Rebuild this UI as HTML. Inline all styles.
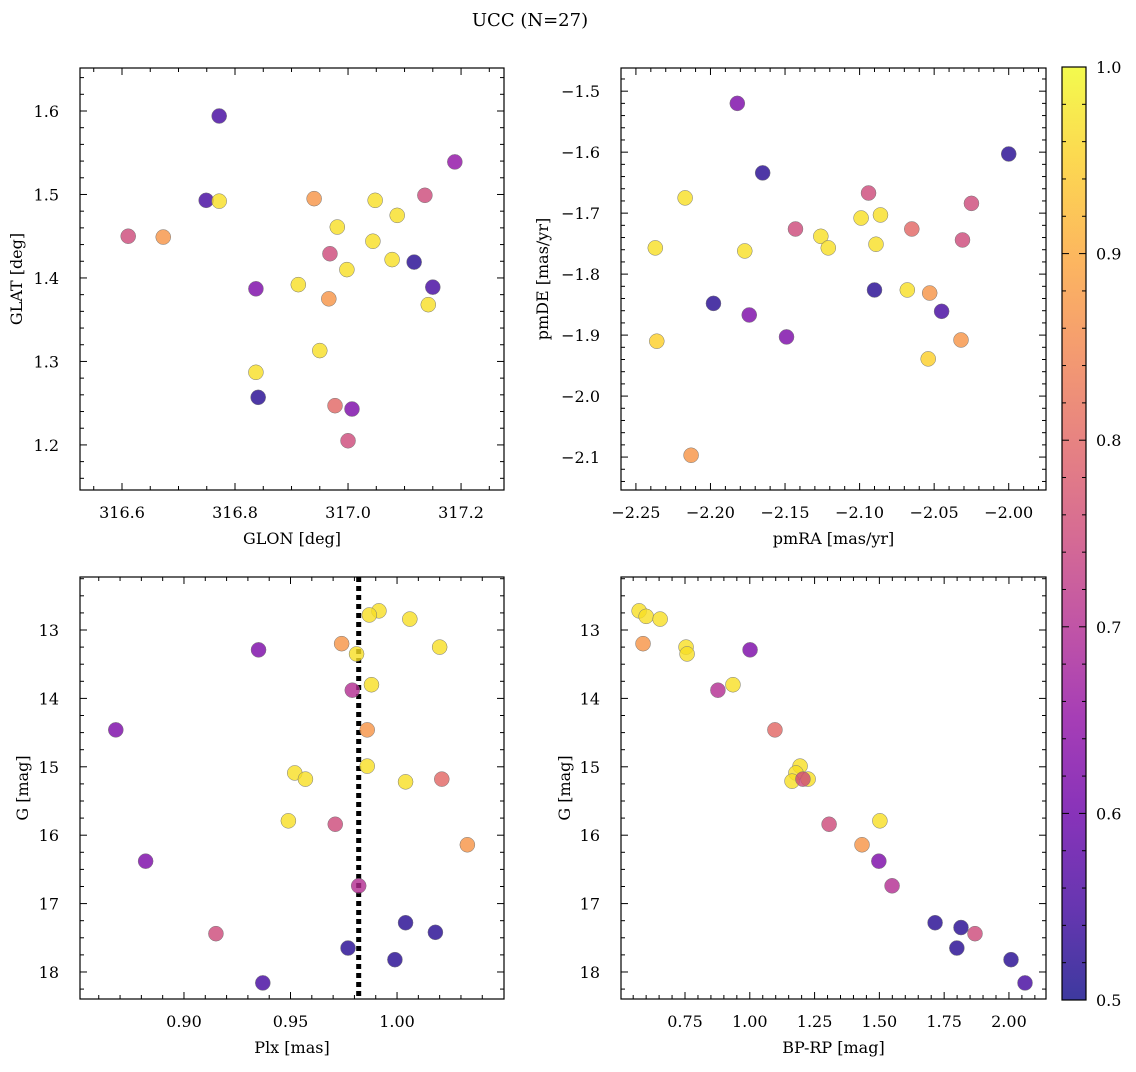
<!DOCTYPE html>
<html><head><meta charset="utf-8">
<style>
html,body{margin:0;padding:0;background:#fff;}
svg text{font-family:"DejaVu Serif","Liberation Serif",serif;fill:#000;}
</style></head>
<body>
<svg id="fig" width="1136" height="1067" viewBox="0 0 1136 1067" xmlns="http://www.w3.org/2000/svg">
<defs>
<linearGradient id="cbgrad" x1="0" y1="1" x2="0" y2="0"></linearGradient>
</defs>
<text x="530" y="26" font-size="18" text-anchor="middle">UCC (N=27)</text>
</svg>
<script>
// ---- data ----
const p1Glon = [316.772,317.189,316.749,316.772,316.940,317.048,317.136,317.087,316.981,316.611,316.673,317.044,316.968,317.078,317.117,316.998,317.150,316.837,316.912,316.966,317.142,316.950,316.837,316.841,316.977,317.007,317.000];
const p1Glat = [1.594,1.539,1.493,1.492,1.495,1.493,1.499,1.475,1.461,1.450,1.449,1.444,1.429,1.422,1.419,1.410,1.389,1.387,1.392,1.375,1.368,1.313,1.287,1.257,1.247,1.243,1.205];
const p1Prob = [0.55,0.65,0.55,0.97,0.87,0.97,0.75,0.97,0.97,0.75,0.87,0.97,0.75,0.97,0.52,0.97,0.55,0.62,0.97,0.87,0.97,0.97,0.97,0.52,0.8,0.62,0.75];

const p2PmRA = [-2.182,-2.000,-2.165,-2.094,-2.217,-2.025,-2.099,-2.086,-2.143,-2.065,-2.126,-2.121,-2.237,-2.177,-2.089,-2.031,-2.068,-2.053,-2.090,-2.045,-2.198,-2.174,-2.149,-2.236,-2.032,-2.054,-2.213];
const p2PmDE = [-1.520,-1.603,-1.634,-1.667,-1.675,-1.684,-1.708,-1.703,-1.726,-1.726,-1.738,-1.757,-1.757,-1.762,-1.751,-1.744,-1.826,-1.831,-1.826,-1.861,-1.848,-1.867,-1.903,-1.910,-1.908,-1.939,-2.097];
const p2Prob = [0.62,0.52,0.52,0.75,0.97,0.75,0.97,0.97,0.75,0.8,0.97,0.97,0.97,0.97,0.97,0.75,0.97,0.87,0.52,0.55,0.52,0.62,0.62,0.95,0.87,0.95,0.87];

const p3Plx = [0.9915,0.987,1.006,0.974,0.935,1.020,0.981,0.988,0.979,0.868,0.986,0.986,0.952,0.957,1.004,1.021,0.949,0.971,1.033,0.882,0.982,0.915,1.004,1.018,0.977,0.999,0.937];
const p3G = [12.72,12.78,12.84,13.20,13.29,13.25,13.35,13.80,13.88,14.46,14.46,14.99,15.09,15.18,15.22,15.18,15.79,15.84,16.14,16.38,16.74,17.44,17.28,17.42,17.65,17.82,18.16];
const p3Prob = [0.97,0.97,0.97,0.87,0.62,0.97,0.97,0.97,0.7,0.62,0.87,0.97,0.97,0.97,0.97,0.8,0.97,0.75,0.87,0.62,0.7,0.75,0.52,0.52,0.52,0.52,0.55];
const plxLine = 0.982;

const p4BpRp = [0.573,0.600,0.654,0.588,0.754,0.758,1.001,0.935,0.877,1.097,1.194,1.178,1.163,1.225,1.205,1.502,1.306,1.433,1.498,1.549,1.869,1.715,1.815,1.799,2.008,2.062];
const p4G = [12.72,12.80,12.84,13.20,13.25,13.35,13.29,13.80,13.88,14.46,14.99,15.09,15.21,15.18,15.18,15.79,15.84,16.14,16.38,16.74,17.44,17.28,17.35,17.65,17.82,18.16];
const p4Prob = [0.97,0.97,0.97,0.87,0.97,0.97,0.62,0.97,0.7,0.8,0.97,0.97,0.97,0.97,0.75,0.97,0.75,0.87,0.62,0.7,0.75,0.52,0.52,0.52,0.52,0.55];

const p1XTicks = [316.6,316.8,317.0,317.2];
const p1YTicks = [1.2,1.3,1.4,1.5,1.6];
const p2XTicks = [-2.25,-2.20,-2.15,-2.10,-2.05,-2.00];
const p2YTicks = [-2.1,-2.0,-1.9,-1.8,-1.7,-1.6,-1.5];
const p3XTicks = [0.90,0.95,1.00];
const magTicks = [13,14,15,16,17,18];
const p4XTicks = [0.75,1.00,1.25,1.50,1.75,2.00];
const cbTicks = [0.5,0.6,0.7,0.8,0.9,1.0];

// ---- helpers ----
const NS = "http://www.w3.org/2000/svg";
const svg = document.getElementById('fig');
function mk(tag, attrs, parent){
  const e = document.createElementNS(NS, tag);
  for (const k in attrs) e.setAttribute(k, attrs[k]);
  (parent||svg).appendChild(e);
  return e;
}
const plasma = [[13,8,135],[65,4,157],[106,0,168],[143,13,164],[177,42,144],[204,71,120],[225,100,98],[242,132,75],[252,166,54],[252,206,37],[240,249,33]];
function cmap(t){
  t = Math.max(0, Math.min(1, t));
  const f = t*10, i = Math.min(9, Math.floor(f)), r = f - i;
  const a = plasma[i], b = plasma[i+1];
  return 'rgb(' + [0,1,2].map(k => Math.round(a[k]+(b[k]-a[k])*r)).join(',') + ')';
}
const vmin = 0.5, vmax = 1.0;
function probColor(p){ return cmap((p - vmin)/(vmax - vmin)); }

function fmt(v, d){ return (v < 0 ? '\u2212' : '') + Math.abs(v).toFixed(d); }

function panel(cfg){
  const g = mk('g', {});
  
  
  const {x0,x1,y0,y1,xmin,xmax,ymin,ymax,invert} = cfg;
  const sx = v => x0 + (v - xmin)/(xmax - xmin)*(x1 - x0);
  const sy = invert ? (v => y0 + (v - ymin)/(ymax - ymin)*(y1 - y0))
                    : (v => y1 - (v - ymin)/(ymax - ymin)*(y1 - y0));
  const tg = mk('g', {stroke:'#000','stroke-width':1}, g);
  
  
  const xstep = cfg.xTicks[1]-cfg.xTicks[0], ystep = cfg.yTicks[1]-cfg.yTicks[0];
  for (let v = cfg.xTicks[0] - 10*xstep; v <= cfg.xTicks[cfg.xTicks.length-1] + 10*xstep + 1e-9; v += xstep/cfg.xMinor){
    const px = sx(v); if (px < x0+0.5 || px > x1-0.5) continue;
    const isMaj = cfg.xTicks.some(t => Math.abs(t - v) < xstep*1e-3);
    const L = isMaj ? 7 : 4;
    mk('line', {x1:px,x2:px,y1:y1,y2:y1-L}, tg);
    mk('line', {x1:px,x2:px,y1:y0,y2:y0+L}, tg);
  }
  for (let v = cfg.yTicks[0] - 10*ystep; v <= cfg.yTicks[cfg.yTicks.length-1] + 10*ystep + 1e-9; v += ystep/cfg.yMinor){
    const py = sy(v); if (py < y0+0.5 || py > y1-0.5) continue;
    const isMaj = cfg.yTicks.some(t => Math.abs(t - v) < ystep*1e-3);
    const L = isMaj ? 7 : 4;
    mk('line', {x1:x0,x2:x0+L,y1:py,y2:py}, tg);
    mk('line', {x1:x1,x2:x1-L,y1:py,y2:py}, tg);
  }
  cfg.xTicks.forEach(v => {
    const t = mk('text', {x:sx(v), y:y1+28, 'font-size':16, 'text-anchor':'middle'}, g);
    
    
    t.textContent = fmt(v, cfg.xDec);
  });
  cfg.yTicks.forEach(v => {
    const t = mk('text', {x:x0-21, y:sy(v)+6, 'font-size':16, 'text-anchor':'end'}, g);
    
    
    t.textContent = fmt(v, cfg.yDec);
  });
  const xl = mk('text', {x:(x0+x1)/2, y:y1+54, 'font-size':16, 'text-anchor':'middle'}, g);
  
  
  xl.textContent = cfg.xLabel;
  const yx = cfg.yLabelX, yy = (y0+y1)/2;
  const yl = mk('text', {x:yx, y:yy, 'font-size':16, 'text-anchor':'middle', transform:'rotate(-90 '+yx+' '+yy+')'}, g);
  
  
  yl.textContent = cfg.yLabel;
  if (cfg.vline !== undefined){
    const ln = mk('line', {x1:sx(cfg.vline), x2:sx(cfg.vline), y1:y0, y2:y1, stroke:'#000','stroke-width':5,'stroke-dasharray':'5,4'}, g);
    
    
  }
  const pg = mk('g', {}, g);
  
  
  cfg.xs.forEach((xv, i) => {
    const c = mk('circle', {cx:sx(xv), cy:sy(cfg.ys[i]), r:7.5, fill:probColor(cfg.cs[i]), 'fill-opacity':0.8, stroke:'#777', 'stroke-width':0.5}, pg);
    
    
  });
  const fr = mk('rect', {x:x0, y:y0, width:x1-x0, height:y1-y0, fill:'none', stroke:'#000','stroke-width':1.2}, g);
  
  
}

panel({name:'sky-panel', x0:80,x1:504,y0:68,y1:490, xmin:316.5257,xmax:317.276,ymin:1.146,ymax:1.6515,
  xTicks:p1XTicks, yTicks:p1YTicks, xMinor:4, yMinor:5, xDec:1, yDec:1,
  xLabel:'GLON [deg]', yLabel:'GLAT [deg]', yLabelX:22, xs:p1Glon, ys:p1Glat, cs:p1Prob});
panel({name:'pm-panel', x0:621,x1:1046,y0:68,y1:490, xmin:-2.260,xmax:-1.975,ymin:-2.154,ymax:-1.462,
  xTicks:p2XTicks, yTicks:p2YTicks, xMinor:5, yMinor:5, xDec:2, yDec:1,
  xLabel:'pmRA [mas/yr]', yLabel:'pmDE [mas/yr]', yLabelX:548, xs:p2PmRA, ys:p2PmDE, cs:p2Prob});
panel({name:'plx-panel', x0:80,x1:504,y0:577,y1:999, xmin:0.8512,xmax:1.0502,ymin:12.225,ymax:18.395, invert:true,
  xTicks:p3XTicks, yTicks:magTicks, xMinor:5, yMinor:4, xDec:2, yDec:0,
  xLabel:'Plx [mas]', yLabel:'G [mag]', yLabelX:28, xs:p3Plx, ys:p3G, cs:p3Prob, vline:plxLine});
panel({name:'cmd-panel', x0:621,x1:1046,y0:577,y1:999, xmin:0.503,xmax:2.143,ymin:12.225,ymax:18.395, invert:true,
  xTicks:p4XTicks, yTicks:magTicks, xMinor:5, yMinor:4, xDec:2, yDec:0,
  xLabel:'BP-RP [mag]', yLabel:'G [mag]', yLabelX:570, xs:p4BpRp, ys:p4G, cs:p4Prob});

// colorbar
(function(){
  const grad = document.getElementById('cbgrad');
  for (let i = 0; i <= 10; i++){
    mk('stop', {offset:(i*10)+'%', 'stop-color':cmap(i/10)}, grad);
  }
  const cb = mk('g', {});
  
  
  const x0 = 1062, x1 = 1086, y0 = 67, y1 = 1000;
  mk('rect', {x:x0,y:y0,width:x1-x0,height:y1-y0,fill:'url(#cbgrad)','fill-opacity':0.8}, cb);
  const sy = v => y1 - (v - vmin)/(vmax - vmin)*(y1 - y0);
  for (let v = vmin; v <= vmax + 1e-9; v += 0.02){
    const py = sy(v);
    const isMaj = cbTicks.some(t => Math.abs(t - v) < 1e-4);
    mk('line', {x1:x1, x2:x1-(isMaj?7:4), y1:py, y2:py, stroke:'#000','stroke-width':1}, cb);
    mk('line', {x1:x0, x2:x0+(isMaj?7:4), y1:py, y2:py, stroke:'#000','stroke-width':1}, cb);
  }
  cbTicks.forEach(v => {
    const t = mk('text', {x:x1+10, y:sy(v)+6, 'font-size':16}, cb);
    
    
    t.textContent = v.toFixed(1);
  });
  mk('rect', {x:x0,y:y0,width:x1-x0,height:y1-y0,fill:'none',stroke:'#000','stroke-width':1.2}, cb);
})();
</script>
</body></html>
